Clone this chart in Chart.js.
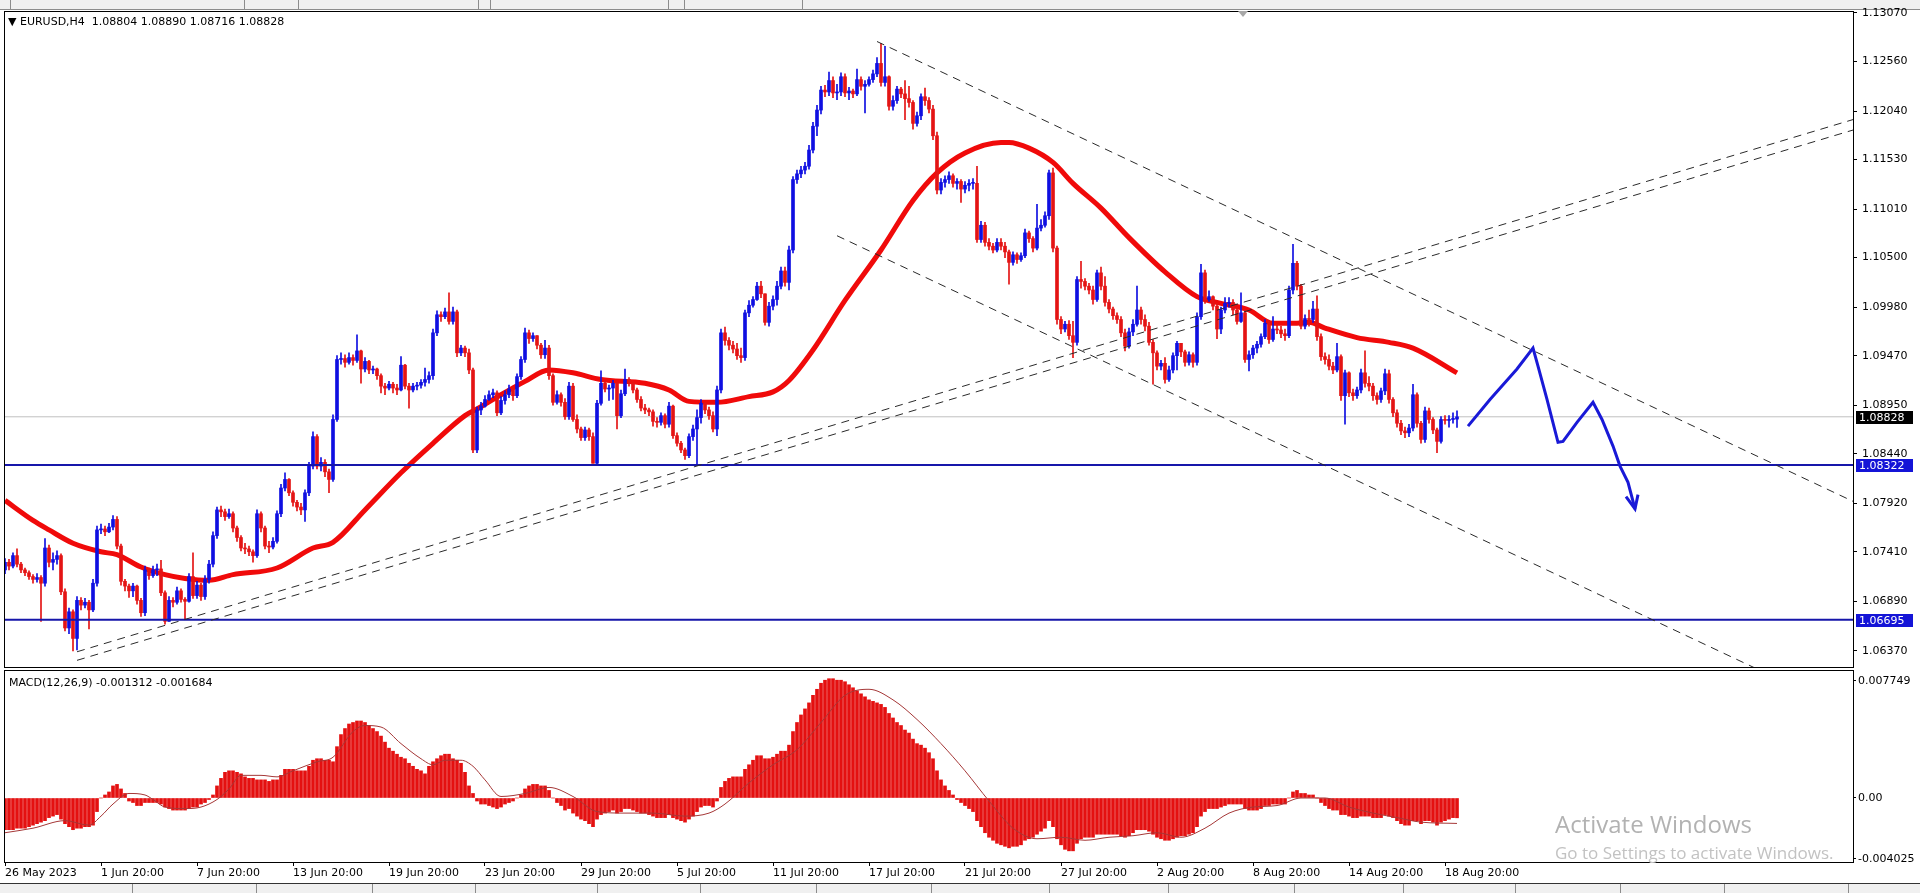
<!DOCTYPE html>
<html lang="en"><head>
<meta charset="utf-8">
<title>EURUSD,H4</title>
<script src="https://cdn.jsdelivr.net/npm/chart.js"></script>
<style>
html,body { margin:0; padding:0; background:#fff; overflow:hidden; }
body { width:1920px; height:893px; position:relative; font-family:"DejaVu Sans",sans-serif; }
canvas { position:absolute; left:0; }
#priceChart { top:0; }
#macdChart { top:667px; }
.strip { position:absolute; left:0; width:1920px; background:#f0f0f0; }
#topbar { top:0; height:9px; border-bottom:1px solid #8c8c8c; }
#tabs { top:883px; height:10px; border-top:1px solid #333; }
.sep { position:absolute; top:0; width:1px; height:100%; background:#8c8c8c; }
.lbl { position:absolute; font-size:11px; line-height:13px; color:#000; white-space:pre; z-index:2; }
.wm { position:absolute; font-family:"Open Sans",sans-serif; white-space:pre; z-index:2; }
#shift { position:absolute; left:1238px; top:11px; width:0; height:0; border-left:5px solid transparent;
         border-right:5px solid transparent; border-top:6px solid #a8a8a8; z-index:2; }
</style>
</head>
<body>
<div class="strip" id="topbar">
  <div class="sep" style="left:10px"></div><div class="sep" style="left:244px"></div>
  <div class="sep" style="left:298px"></div><div class="sep" style="left:478px"></div>
  <div class="sep" style="left:490px"></div><div class="sep" style="left:668px"></div>
  <div class="sep" style="left:684px"></div><div class="sep" style="left:802px"></div>
</div>
<canvas id="priceChart" width="1920" height="672"></canvas>
<canvas id="macdChart" width="1920" height="215"></canvas>
<div class="lbl" style="left:8px;top:15px">&#9660; EURUSD,H4  1.08804 1.08890 1.08716 1.08828</div>
<div class="lbl" style="left:9px;top:676px">MACD(12,26,9) -0.001312 -0.001684</div>
<div id="shift"></div>
<div class="wm" style="left:1555px;top:807px;font-size:24px;color:#b2b2b2">Activate Windows</div>
<div class="wm" style="left:1555px;top:841px;font-size:17px;color:#c2c2c2">Go to Settings to activate Windows.</div>
<div class="strip" id="tabs">
  <div class="sep" style="left:132px"></div><div class="sep" style="left:256px"></div>
  <div class="sep" style="left:372px"></div><div class="sep" style="left:475px"></div>
  <div class="sep" style="left:597px"></div><div class="sep" style="left:700px"></div>
  <div class="sep" style="left:816px"></div><div class="sep" style="left:931px"></div>
  <div class="sep" style="left:1049px"></div><div class="sep" style="left:1168px"></div>
  <div class="sep" style="left:1294px"></div><div class="sep" style="left:1403px"></div>
  <div class="sep" style="left:1515px"></div><div class="sep" style="left:1620px"></div>
  <div class="sep" style="left:1724px"></div><div class="sep" style="left:1848px"></div>
</div>
<script>
// time axis: one bar per H4 candle, a label every 24 bars
const tickIdx=[0,24,48,72,96,120,144,168,192,216,240,264,288,312,336,360];
const tickLabels=['26 May 2023','1 Jun 20:00','7 Jun 20:00','13 Jun 20:00','19 Jun 20:00','23 Jun 20:00',
  '29 Jun 20:00','5 Jul 20:00','11 Jul 20:00','17 Jul 20:00','21 Jul 20:00','27 Jul 20:00',
  '2 Aug 20:00','8 Aug 20:00','14 Aug 20:00','18 Aug 20:00'];
const priceTicks=[1.06370,1.06890,1.07410,1.07920,1.08440,1.08950,1.09470,1.09980,1.10500,1.11010,1.11530,1.12040,1.12560,1.13070];
const macdTicks=[0.007749,0,-0.004025];

// EURUSD H4 candles (open of each bar = previous close)
const firstOpen=1.0722;
const closes=[
1.0730,1.0726,1.0737,1.0728,1.0722,1.0719,1.0715,1.0712,1.0714,1.0708,
1.0745,1.0730,1.0733,1.0737,1.0699,1.0661,1.0678,1.0650,1.0690,1.0685,
1.0688,1.0680,1.0708,1.0764,1.0765,1.0762,1.0767,1.0775,1.0747,1.0710,
1.0705,1.0700,1.0705,1.0690,1.0677,1.0722,1.0716,1.0722,1.0723,1.0698,
1.0668,1.0690,1.0688,1.0700,1.0691,1.0689,1.0715,1.0695,1.0706,1.0694,
1.0712,1.0728,1.0758,1.0785,1.0783,1.0778,1.0781,1.0766,1.0756,1.0745,
1.0744,1.0741,1.0737,1.0781,1.0766,1.0747,1.0746,1.0752,1.0781,1.0808,
1.0817,1.0803,1.0793,1.0788,1.0785,1.0803,1.0831,1.0862,1.0831,1.0835,
1.0825,1.0817,1.0880,1.0943,1.0944,1.0940,1.0945,1.0942,1.0952,1.0933,
1.0941,1.0932,1.0933,1.0926,1.0915,1.0913,1.0917,1.0913,1.0911,1.0937,
1.0915,1.0911,1.0915,1.0916,1.0919,1.0922,1.0926,1.0971,1.0990,1.0988,
1.0993,1.0983,1.0993,1.0950,1.0955,1.0950,1.0932,1.0848,1.0890,1.0894,
1.0901,1.0906,1.0908,1.0887,1.0900,1.0906,1.0912,1.0905,1.0925,1.0943,
1.0971,1.0965,1.0968,1.0958,1.0948,1.0955,1.0926,1.0898,1.0906,1.0898,
1.0883,1.0915,1.0880,1.0870,1.0861,1.0869,1.0862,1.0834,1.0897,1.0918,
1.0912,1.0913,1.0918,1.0884,1.0907,1.0922,1.0918,1.0911,1.0901,1.0892,
1.0890,1.0888,1.0878,1.0877,1.0884,1.0875,1.0894,1.0863,1.0855,1.0848,
1.0842,1.0862,1.0870,1.0882,1.0897,1.0890,1.0884,1.0870,1.0911,1.0971,
1.0963,1.0958,1.0954,1.0947,1.0945,1.0992,1.1000,1.1006,1.1020,1.1012,
1.0982,1.0999,1.1006,1.1020,1.1036,1.1024,1.1058,1.1132,1.1138,1.1142,
1.1146,1.1163,1.1188,1.1205,1.1226,1.1224,1.1236,1.1223,1.1224,1.1240,
1.1223,1.1225,1.1222,1.1237,1.1230,1.1232,1.1237,1.1243,1.1254,1.1234,
1.1240,1.1209,1.1215,1.1227,1.1222,1.1217,1.1213,1.1191,1.1199,1.1219,
1.1215,1.1206,1.1178,1.1121,1.1129,1.1132,1.1136,1.1128,1.1130,1.1122,
1.1126,1.1128,1.1128,1.1069,1.1084,1.1066,1.1062,1.1058,1.1066,1.1062,
1.1056,1.1045,1.1053,1.1048,1.1052,1.1076,1.1070,1.1060,1.1081,1.1084,
1.1094,1.1139,1.1060,1.0985,1.0975,1.0980,1.0968,1.0961,1.1027,1.1025,
1.1020,1.1016,1.1006,1.1034,1.1020,1.1003,1.0996,1.0989,1.0985,1.0971,
1.0957,1.0972,1.0980,1.0995,1.0985,1.0978,1.0961,1.0950,1.0936,1.0939,
1.0922,1.0932,1.0947,1.0960,1.0951,1.0940,1.0948,1.0940,1.0988,1.1034,
1.1006,1.1009,1.0999,1.0975,1.0995,1.1002,1.1003,1.0995,1.0983,1.0992,
1.0943,1.0948,1.0955,1.0959,1.0967,1.0981,1.0964,1.0975,1.0974,1.0970,
1.0968,1.1016,1.1044,1.1020,1.0978,1.0986,1.0985,1.0996,1.0967,1.0946,
1.0943,1.0936,1.0932,1.0946,1.0905,1.0929,1.0908,1.0905,1.0911,1.0929,
1.0918,1.0915,1.0905,1.0901,1.0910,1.0928,1.0901,1.0887,1.0876,1.0868,
1.0866,1.0871,1.0906,1.0876,1.0859,1.0889,1.0880,1.0869,1.0857,1.0880,
1.0879,1.0880,1.08804,1.08828];
const highs=[
1.0734,1.0733,1.0740,1.0744,1.0730,1.0724,1.0721,1.0717,1.0718,1.0716,
1.0755,1.0748,1.0740,1.0742,1.0739,1.0702,1.0682,1.0680,1.0694,1.0693,
1.0692,1.0690,1.0712,1.0768,1.0770,1.0768,1.0771,1.0779,1.0778,1.0749,
1.0712,1.0707,1.0708,1.0706,1.0692,1.0726,1.0724,1.0726,1.0728,1.0732,
1.0700,1.0694,1.0693,1.0704,1.0702,1.0693,1.0718,1.0740,1.0710,1.0708,
1.0716,1.0732,1.0762,1.0788,1.0789,1.0786,1.0786,1.0783,1.0768,1.0758,
1.0750,1.0747,1.0743,1.0785,1.0783,1.0768,1.0752,1.0756,1.0784,1.0812,
1.0824,1.0818,1.0805,1.0795,1.0792,1.0806,1.0835,1.0867,1.0864,1.0840,
1.0838,1.0828,1.0885,1.0947,1.0950,1.0948,1.0950,1.0948,1.0969,1.0953,
1.0945,1.0942,1.0936,1.0934,1.0928,1.0918,1.0920,1.0919,1.0917,1.0946,
1.0938,1.0918,1.0918,1.0919,1.0922,1.0934,1.0930,1.0975,1.0994,1.0993,
1.0997,1.1013,1.0998,1.0995,1.0958,1.0957,1.0954,1.0934,1.0893,1.0898,
1.0905,1.0910,1.0912,1.0910,1.0904,1.0910,1.0916,1.0915,1.0928,1.0946,
1.0976,1.0974,1.0971,1.0968,1.0960,1.0963,1.0958,1.0928,1.0910,1.0908,
1.0902,1.0919,1.0918,1.0885,1.0872,1.0872,1.0871,1.0866,1.0900,1.0931,
1.0920,1.0916,1.0921,1.0919,1.0911,1.0933,1.0924,1.0920,1.0913,1.0904,
1.0896,1.0892,1.0890,1.0882,1.0887,1.0886,1.0898,1.0895,1.0866,1.0857,
1.0850,1.0865,1.0874,1.0890,1.0901,1.0898,1.0893,1.0888,1.0915,1.0975,
1.0977,1.0966,1.0962,1.0960,1.0955,1.0995,1.1005,1.1009,1.1024,1.1025,
1.1012,1.1003,1.1010,1.1025,1.1040,1.1040,1.1062,1.1135,1.1142,1.1146,
1.1150,1.1168,1.1192,1.1210,1.1230,1.1231,1.1245,1.1240,1.1232,1.1244,
1.1243,1.1229,1.1227,1.1248,1.1240,1.1236,1.1240,1.1247,1.1260,1.1275,
1.1272,1.1241,1.1220,1.1230,1.1229,1.1236,1.1230,1.1215,1.1203,1.1222,
1.1228,1.1218,1.1210,1.1182,1.1133,1.1136,1.1140,1.1138,1.1133,1.1132,
1.1130,1.1132,1.1133,1.1146,1.1088,1.1087,1.1070,1.1065,1.1070,1.1070,
1.1066,1.1058,1.1056,1.1055,1.1055,1.1080,1.1078,1.1072,1.1106,1.1090,
1.1098,1.1142,1.1144,1.1062,1.0988,1.0983,1.0984,1.0983,1.1030,1.1046,
1.1028,1.1023,1.1020,1.1037,1.1040,1.1030,1.1006,1.0998,1.0992,1.0988,
1.0975,1.0976,1.0985,1.1020,1.0998,1.0990,1.0982,1.0964,1.0952,1.0942,
1.0945,1.0936,1.0950,1.0962,1.0960,1.0953,1.0951,1.0950,1.0992,1.1043,
1.1037,1.1015,1.1010,1.1002,1.0998,1.1008,1.1008,1.1006,1.0998,1.1013,
1.0995,1.0952,1.0958,1.0962,1.0970,1.0985,1.0983,1.0988,1.0980,1.0978,
1.0975,1.1020,1.1064,1.1046,1.1022,1.0990,1.0995,1.1004,1.1010,1.0970,
1.0950,1.0948,1.0940,1.0960,1.0948,1.0932,1.0930,1.0912,1.0914,1.0933,
1.0952,1.0925,1.0918,1.0908,1.0913,1.0933,1.0932,1.0903,1.0890,1.0879,
1.0872,1.0875,1.0917,1.0908,1.0878,1.0893,1.0892,1.0882,1.0871,1.0883,
1.0884,1.0884,1.0887,1.08890];
const lows=[
1.0718,1.0722,1.0724,1.0725,1.0719,1.0716,1.0712,1.0708,1.0709,1.0668,
1.0705,1.0725,1.0722,1.0728,1.0696,1.0658,1.0655,1.0637,1.0638,1.0680,
1.0682,1.0660,1.0678,1.0705,1.0760,1.0758,1.0761,1.0764,1.0744,1.0706,
1.0700,1.0693,1.0694,1.0686,1.0673,1.0674,1.0712,1.0714,1.0716,1.0695,
1.0665,1.0668,1.0683,1.0686,1.0688,1.0670,1.0688,1.0692,1.0692,1.0690,
1.0691,1.0708,1.0725,1.0755,1.0778,1.0774,1.0776,1.0762,1.0752,1.0742,
1.0739,1.0737,1.0730,1.0735,1.0762,1.0744,1.0740,1.0744,1.0750,1.0778,
1.0805,1.0800,1.0789,1.0784,1.0780,1.0773,1.0800,1.0828,1.0828,1.0826,
1.0820,1.0803,1.0815,1.0878,1.0938,1.0935,1.0938,1.0937,1.0940,1.0918,
1.0930,1.0928,1.0928,1.0922,1.0908,1.0906,1.0911,1.0908,1.0906,1.0910,
1.0912,1.0892,1.0909,1.0911,1.0913,1.0915,1.0918,1.0922,1.0968,1.0983,
1.0986,1.0980,1.0980,1.0946,1.0947,1.0946,1.0928,1.0845,1.0845,1.0885,
1.0893,1.0900,1.0903,1.0884,1.0885,1.0896,1.0903,1.0900,1.0903,1.0922,
1.0940,1.0960,1.0962,1.0954,1.0944,1.0944,1.0922,1.0895,1.0896,1.0894,
1.0880,1.0880,1.0878,1.0866,1.0858,1.0858,1.0858,1.0834,1.0832,1.0895,
1.0909,1.0900,1.0901,1.0870,1.0882,1.0905,1.0915,1.0908,1.0898,1.0889,
1.0886,1.0884,1.0873,1.0872,1.0874,1.0871,1.0872,1.0860,1.0852,1.0845,
1.0838,1.0840,1.0858,1.0833,1.0876,1.0886,1.0880,1.0867,1.0863,1.0908,
1.0958,1.0953,1.0950,1.0943,1.0940,1.0942,1.0988,1.0998,1.1005,1.1008,
1.0979,1.0978,1.0995,1.1000,1.1017,1.1020,1.1016,1.1055,1.1128,1.1134,
1.1138,1.1143,1.1160,1.1178,1.1201,1.1219,1.1220,1.1218,1.1216,1.1220,
1.1219,1.1216,1.1218,1.1220,1.1226,1.1202,1.1230,1.1234,1.1240,1.1230,
1.1230,1.1205,1.1205,1.1212,1.1218,1.1195,1.1208,1.1185,1.1188,1.1195,
1.1210,1.1202,1.1174,1.1117,1.1117,1.1124,1.1128,1.1124,1.1122,1.1108,
1.1118,1.1120,1.1122,1.1066,1.1066,1.1062,1.1058,1.1055,1.1056,1.1058,
1.1050,1.1022,1.1042,1.1044,1.1046,1.1050,1.1066,1.1056,1.1058,1.1078,
1.1082,1.1090,1.1056,1.0980,1.0970,1.0972,1.0964,1.0945,1.0958,1.1018,
1.1016,1.1012,1.1001,1.1004,1.1016,1.0999,1.0992,1.0985,1.0981,1.0967,
1.0952,1.0955,1.0968,1.0978,1.0980,1.0973,1.0958,1.0917,1.0932,1.0932,
1.0918,1.0920,1.0929,1.0932,1.0946,1.0936,1.0937,1.0935,1.0937,1.0985,
1.1002,1.1004,1.0995,1.0965,1.0970,1.0992,1.0998,1.0990,1.0980,1.0982,
1.0940,1.0931,1.0944,1.0950,1.0956,1.0965,1.0960,1.0962,1.0970,1.0966,
1.0963,1.0966,1.1012,1.1016,1.0975,1.0975,1.0978,1.0982,1.0963,1.0942,
1.0938,1.0932,1.0928,1.0930,1.0900,1.0875,1.0904,1.0900,1.0902,1.0908,
1.0914,1.0910,1.0900,1.0896,1.0898,1.0906,1.0897,1.0883,1.0872,1.0864,
1.0861,1.0862,1.0868,1.0872,1.0855,1.0856,1.0876,1.0865,1.0845,1.0855,
1.0875,1.0872,1.0876,1.08716];

// red moving average, read along its path
const maBar=[0,7,11,17,24,28,34,40,45,51,57,68,77,82,90,99,107,115,118,124,130,136,142,149,160,166,171,178,186,192,
  196,202,210,219,227,233,240,249,251,256,262,267,274,281,290,298,304,311,317,323,326,330,338,346,352,363];
const maPrice=[1.0795,1.0774,1.0764,1.0750,1.0741,1.0738,1.0725,1.0717,1.0713,1.0711,1.0717,1.0724,1.0745,1.0751,1.0785,
  1.0824,1.0855,1.0884,1.0891,1.0906,1.0920,1.0932,1.0929,1.0922,1.0918,1.0911,1.0899,1.0898,1.0904,1.0909,
  1.0921,1.0953,1.1005,1.1058,1.1110,1.1139,1.1160,1.1171,1.1171,1.1165,1.1150,1.1128,1.1102,1.1071,1.1035,
  1.1009,1.1002,1.0995,1.0981,1.0981,1.0982,1.0976,1.0966,1.0961,1.0955,1.0929];

// drawn objects
const lastPrice=1.08828, levelMid=1.08322, levelLow=1.06695;
const chanTopBar=[218,462], chanTopPrice=[1.1277,1.0794];
const chanBotBar=[208,440], chanBotPrice=[1.1073,1.0614];
const riseUpBar=[18,462], riseUpPrice=[1.0636,1.1195];
const riseLoBar=[18,462], riseLoPrice=[1.0627,1.1184];
const pathBar=[365.75,371.25,378,382,383.25,385.5,388.25,389.5,393,397,399.25,402,403.75,405.75,407.5];
const pathPrice=[1.0873,1.0901,1.0933,1.0955,1.0936,1.0901,1.0856,1.0857,1.0877,1.0898,1.0880,1.0852,1.0831,1.0814,1.0786];
const headBar=[405.25,407.5,408.25], headPrice=[1.0799,1.0786,1.0801];

// MACD(12,26,9) histogram and signal
const macdHist=[
-0.0021,-0.0021,-0.0021,-0.0020,-0.0020,-0.0020,-0.0019,-0.0018,-0.0017,-0.0016,
-0.0015,-0.0013,-0.0012,-0.0011,-0.0014,-0.0017,-0.0019,-0.0021,-0.0020,-0.0020,
-0.0019,-0.0019,-0.0018,-0.0009,0.0000,0.0002,0.0004,0.0008,0.0009,0.0006,
0.0003,-0.0002,-0.0003,-0.0005,-0.0005,-0.0003,-0.0003,-0.0003,-0.0003,-0.0004,
-0.0006,-0.0007,-0.0008,-0.0008,-0.0008,-0.0008,-0.0007,-0.0006,-0.0006,-0.0004,
-0.0003,-0.0001,0.0002,0.0008,0.0013,0.0017,0.0018,0.0018,0.0017,0.0016,
0.0014,0.0013,0.0013,0.0012,0.0012,0.0012,0.0011,0.0012,0.0012,0.0015,
0.0019,0.0019,0.0019,0.0018,0.0018,0.0018,0.0021,0.0025,0.0026,0.0026,
0.0025,0.0025,0.0024,0.0034,0.0042,0.0046,0.0049,0.0050,0.0051,0.0051,
0.0050,0.0048,0.0046,0.0044,0.0041,0.0037,0.0033,0.0031,0.0029,0.0027,
0.0026,0.0023,0.0021,0.0019,0.0018,0.0016,0.0021,0.0024,0.0026,0.0028,
0.0029,0.0029,0.0026,0.0025,0.0023,0.0017,0.0008,0.0003,-0.0002,-0.0004,
-0.0004,-0.0005,-0.0006,-0.0007,-0.0006,-0.0004,-0.0003,-0.0002,0.0000,0.0002,
0.0006,0.0008,0.0009,0.0009,0.0008,0.0008,0.0005,0.0000,-0.0003,-0.0005,
-0.0008,-0.0007,-0.0010,-0.0012,-0.0014,-0.0015,-0.0017,-0.0019,-0.0014,-0.0011,
-0.0010,-0.0009,-0.0008,-0.0010,-0.0009,-0.0007,-0.0007,-0.0008,-0.0009,-0.0010,
-0.0010,-0.0011,-0.0012,-0.0013,-0.0013,-0.0013,-0.0011,-0.0013,-0.0014,-0.0015,
-0.0016,-0.0014,-0.0012,-0.0009,-0.0006,-0.0005,-0.0005,-0.0006,-0.0002,0.0007,
0.0011,0.0013,0.0014,0.0014,0.0014,0.0019,0.0022,0.0025,0.0028,0.0028,
0.0026,0.0026,0.0027,0.0029,0.0031,0.0031,0.0035,0.0044,0.0050,0.0055,
0.0059,0.0063,0.0068,0.0072,0.0076,0.0078,0.0079,0.0079,0.0078,0.0078,
0.0077,0.0075,0.0073,0.0071,0.0069,0.0067,0.0065,0.0064,0.0063,0.0062,
0.0060,0.0056,0.0053,0.0050,0.0048,0.0045,0.0043,0.0039,0.0036,0.0035,
0.0033,0.0030,0.0026,0.0018,0.0012,0.0008,0.0005,0.0002,-0.0001,-0.0003,
-0.0005,-0.0007,-0.0009,-0.0015,-0.0019,-0.0023,-0.0026,-0.0028,-0.0030,-0.0031,
-0.0032,-0.0033,-0.0032,-0.0032,-0.0031,-0.0028,-0.0027,-0.0026,-0.0024,-0.0022,
-0.0020,-0.0015,-0.0019,-0.0027,-0.0031,-0.0034,-0.0035,-0.0035,-0.0030,-0.0027,
-0.0026,-0.0026,-0.0026,-0.0024,-0.0024,-0.0024,-0.0024,-0.0024,-0.0024,-0.0025,
-0.0026,-0.0025,-0.0023,-0.0021,-0.0021,-0.0021,-0.0022,-0.0024,-0.0026,-0.0027,
-0.0028,-0.0028,-0.0027,-0.0026,-0.0025,-0.0025,-0.0024,-0.0023,-0.0019,-0.0012,
-0.0009,-0.0007,-0.0007,-0.0007,-0.0006,-0.0005,-0.0004,-0.0004,-0.0004,-0.0004,
-0.0007,-0.0008,-0.0008,-0.0008,-0.0007,-0.0005,-0.0005,-0.0004,-0.0004,-0.0004,
-0.0004,0.0000,0.0004,0.0005,0.0003,0.0003,0.0002,0.0002,0.0000,-0.0003,
-0.0005,-0.0007,-0.0008,-0.0008,-0.0011,-0.0011,-0.0012,-0.0013,-0.0013,-0.0012,
-0.0012,-0.0012,-0.0013,-0.0013,-0.0013,-0.0011,-0.0012,-0.0013,-0.0015,-0.0017,
-0.0018,-0.0018,-0.0015,-0.0015,-0.0017,-0.0015,-0.0015,-0.0016,-0.0018,-0.0016,
-0.0015,-0.0014,-0.0013,-0.001312];
const sigBar=[0,7,15,21,24,27,31,35,37,40,45,49,53,56,59,64,68,72,78,82,87,90,94,99,104,107,110,114,117,120,
  124,130,136,142,148,155,162,170,176,180,186,192,198,204,210,216,222,228,234,240,
  246,252,258,264,270,276,282,288,294,300,306,312,318,324,330,336,342,348,354,363];
const sigVal=[-0.0023,-0.0020,-0.0015,-0.0018,-0.0012,-0.0004,0.0003,0.0002,-0.0001,-0.0006,
  -0.0007,-0.0006,-0.0001,0.0006,0.0015,0.0015,0.0014,0.0018,0.0024,0.0027,
  0.0044,0.0048,0.0047,0.0036,0.0026,0.0022,0.0025,0.0025,0.0021,0.0012,
  0.0001,0.0003,0.0007,0.0001,-0.0009,-0.0010,-0.0010,-0.0012,-0.0010,-0.0004,
  0.0010,0.0022,0.0032,0.0050,0.0068,0.0072,0.0065,0.0052,0.0036,0.0018,
  -0.0002,-0.0020,-0.0027,-0.0026,-0.0028,-0.0026,-0.0025,-0.0023,-0.0026,-0.0020,
  -0.0010,-0.0006,-0.0005,0.0000,0.0000,-0.0006,-0.0010,-0.0013,-0.0016,-0.001684];

Chart.defaults.font.family='"DejaVu Sans", sans-serif';
Chart.defaults.font.size=11;
Chart.defaults.color='#000';

const BULL='rgb(15,15,225)', BEAR='rgb(228,20,20)', LEVEL='rgb(22,22,170)', TAG='rgb(20,20,215)';
const opens=closes.map((c,i)=>i?closes[i-1]:firstOpen);
const candleColors=closes.map((c,i)=>c>=opens[i]?BULL:BEAR);
const pts=(xs,ys)=>xs.map((x,k)=>({x:x,y:ys[k]}));
const flat=(v)=>[{x:0,y:v},{x:462,y:v}];
const lineSet=(data,color,width,dash,order)=>({type:'line',data:data,borderColor:color,borderWidth:width,
  borderDash:dash,pointRadius:0,fill:false,order:order});
// keep the axes from pushing the plot area in
const noPad=(s)=>{s.paddingTop=0;s.paddingBottom=0;s.paddingLeft=0;s.paddingRight=0;};

const framePlugin={id:'frame',afterDraw(c){const a=c.chartArea,x=c.ctx;x.save();x.strokeStyle='#000';x.lineWidth=1;
  x.strokeRect(Math.round(a.left)-0.5,Math.round(a.top)-0.5,Math.round(a.right-a.left)+1,Math.round(a.bottom-a.top)+1);x.restore();}};
const priceTags=[{v:lastPrice,bg:'#000'},{v:levelMid,bg:TAG},{v:levelLow,bg:TAG}];
const tagPlugin={id:'tags',afterDraw(c){const x=c.ctx,s=c.scales.y,a=c.chartArea;x.save();
  priceTags.forEach(t=>{const py=Math.round(s.getPixelForValue(t.v));x.fillStyle=t.bg;x.fillRect(a.right+3,py-6,57,13);
    x.fillStyle='#fff';x.font='11px "DejaVu Sans"';x.textBaseline='middle';x.textAlign='left';x.fillText(t.v.toFixed(5),a.right+6,py+1);});
  x.restore();}};

const xBase={type:'linear',min:0,max:462,offset:false,grid:{offset:false,drawOnChartArea:false}};

new Chart(document.getElementById('priceChart'),{
  type:'bar',
  data:{datasets:[
    lineSet(flat(lastPrice),'rgb(192,192,192)',1,[],9),
    {type:'line',data:pts(maBar,maPrice),borderColor:'rgb(240,10,10)',borderWidth:5,pointRadius:0,fill:false,
      cubicInterpolationMode:'monotone',order:5},
    {data:closes.map((c,i)=>({x:i,y:[lows[i],highs[i]]})),backgroundColor:candleColors,barThickness:1,grouped:false,order:1},
    {data:closes.map((c,i)=>({x:i,y:[opens[i],c]})),backgroundColor:candleColors,barThickness:3,minBarLength:1,grouped:false,order:0},
    lineSet(flat(levelMid),LEVEL,2,[],-1),
    lineSet(flat(levelLow),LEVEL,2,[],-1),
    lineSet(pts(chanTopBar,chanTopPrice),'#2a2a2a',1,[8,6],-2),
    lineSet(pts(chanBotBar,chanBotPrice),'#2a2a2a',1,[8,6],-2),
    lineSet(pts(riseUpBar,riseUpPrice),'#2a2a2a',1,[8,6],-2),
    lineSet(pts(riseLoBar,riseLoPrice),'#2a2a2a',1,[8,6],-2),
    lineSet(pts(pathBar,pathPrice),'rgb(25,25,215)',3,[],-3),
    lineSet(pts(headBar,headPrice),'rgb(25,25,215)',3,[],-3)
  ]},
  options:{
    responsive:false,animation:false,events:[],
    layout:{padding:{left:5,top:12,right:0,bottom:5}},
    plugins:{legend:{display:false},tooltip:{enabled:false}},
    scales:{
      x:Object.assign({},xBase,{display:false}),
      y:{position:'right',min:1.0620,max:1.1308,
        afterFit(s){s.width=67;noPad(s);},
        afterBuildTicks(s){s.ticks=priceTicks.map(v=>({value:v}));},
        ticks:{callback:v=>v.toFixed(5),padding:5,autoSkip:false},
        grid:{drawOnChartArea:false,tickLength:4,tickColor:'#000'},
        border:{display:false}}
    }
  },
  plugins:[framePlugin,tagPlugin]
});

new Chart(document.getElementById('macdChart'),{
  type:'bar',
  data:{datasets:[
    {type:'line',data:pts(sigBar,sigVal),borderColor:'rgb(165,55,55)',borderWidth:1,pointRadius:0,fill:false,
      cubicInterpolationMode:'monotone',order:0},
    {data:macdHist.map((v,i)=>({x:i,y:v})),backgroundColor:'rgb(228,16,16)',barThickness:3,order:1}
  ]},
  options:{
    responsive:false,animation:false,events:[],
    layout:{padding:{left:5,top:4,right:0,bottom:0}},
    plugins:{legend:{display:false},tooltip:{enabled:false}},
    scales:{
      x:Object.assign({},xBase,{position:'bottom',
        afterFit(s){s.height=20;noPad(s);},
        afterBuildTicks(s){s.ticks=tickIdx.map(v=>({value:v}));},
        ticks:{callback:(v,k)=>tickLabels[k],align:'start',maxRotation:0,autoSkip:false,padding:1},
        grid:{offset:false,drawOnChartArea:false,tickLength:4,tickColor:'#000'},
        border:{display:false}}),
      y:{position:'right',min:-0.004239,max:0.008411,
        afterFit(s){s.width=67;noPad(s);},
        afterBuildTicks(s){s.ticks=macdTicks.map(v=>({value:v}));},
        ticks:{callback:v=>v===0?'0.00':v.toFixed(6),padding:2,autoSkip:false},
        grid:{drawOnChartArea:false,tickLength:3,tickColor:'#000'},
        border:{display:false}}
    }
  },
  plugins:[framePlugin]
});
</script>
</body></html>
